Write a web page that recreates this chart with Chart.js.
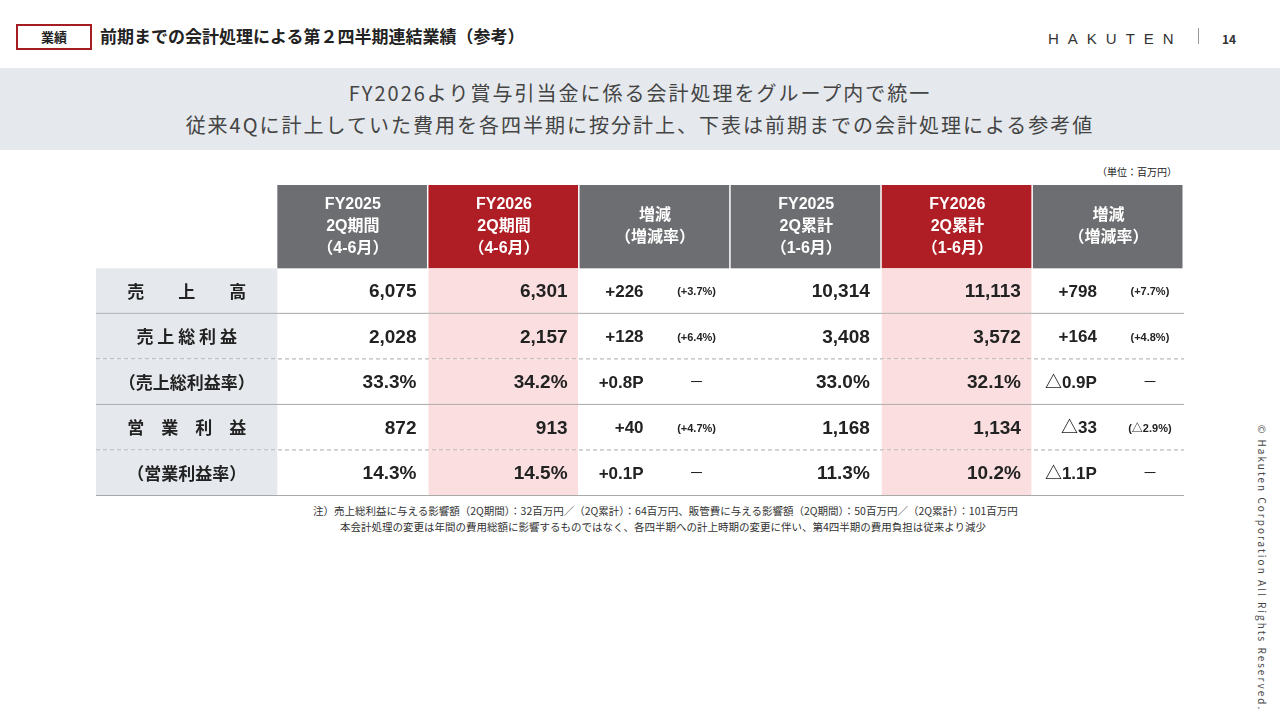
<!DOCTYPE html>
<html><head><meta charset="utf-8">
<script src="https://cdn.jsdelivr.net/npm/chart.js@4.4.0/dist/chart.umd.min.js"></script>
<style>
body{margin:0;width:1280px;height:720px;background:#fff;position:relative;overflow:hidden;font-family:"Noto Sans CJK JP","Noto Sans",sans-serif;color:#222}
.tag{position:absolute;left:16px;top:24px;width:72px;height:22px;border:2px solid #a31d22;font-size:13px;font-weight:bold;text-align:center;line-height:22px}
.title{position:absolute;left:100px;top:23px;font-size:17px;font-weight:bold}
.logo{position:absolute;left:1048px;top:30px;font-family:"Liberation Sans";font-size:15px;letter-spacing:9px;color:#333}
.sep{position:absolute;left:1198px;top:28px;width:1px;height:16px;background:#999}
.pg{position:absolute;left:1222px;top:30px;font-size:12px;font-weight:bold;color:#333}
.banner{position:absolute;left:0;top:68px;width:1280px;height:82px;background:#e5e9ed;text-align:center;font-size:20px;color:#444;letter-spacing:2px;line-height:32px;padding-top:9px;box-sizing:border-box}
.unit{position:absolute;right:103px;top:164px;font-size:10px}
.note{position:absolute;font-size:10.5px;color:#333}
.copy{position:absolute;left:1254px;top:425px;transform-origin:0 0;transform:translate(16px,0) rotate(90deg);font-size:10px;letter-spacing:2px;color:#444;white-space:nowrap}
canvas{position:absolute;left:96px;top:185px}
</style></head><body>
<div class="tag">業績</div>
<div class="title">前期までの会計処理による第２四半期連結業績（参考）</div>
<div class="logo">HAKUTEN</div><div class="sep"></div><div class="pg">14</div>
<div class="banner">FY2026より賞与引当金に係る会計処理をグループ内で統一<br>従来4Qに計上していた費用を各四半期に按分計上、下表は前期までの会計処理による参考値</div>
<div class="unit">（単位：百万円）</div>
<canvas id="tbl" width="1088" height="311"></canvas>
<div class="note" style="left:313px;top:503px">注）売上総利益に与える影響額（2Q期間）：32百万円／（2Q累計）：64百万円、販管費に与える影響額（2Q期間）：50百万円／（2Q累計）：101百万円</div>
<div class="note" style="left:340px;top:519px">本会計処理の変更は年間の費用総額に影響するものではなく、各四半期への計上時期の変更に伴い、第4四半期の費用負担は従来より減少</div>
<div class="copy">© Hakuten Corporation All Rights Reserved.</div>
<script>
const headers = ['FY2025\n2Q期間\n（4-6月）', 'FY2026\n2Q期間\n（4-6月）', '増減\n（増減率）', 'FY2025\n2Q累計\n（1-6月）', 'FY2026\n2Q累計\n（1-6月）', '増減\n（増減率）'];
const rowLabels = ['売　　上　　高', '売 上 総 利 益', '（売上総利益率）', '営　業　利　益', '（営業利益率）'];
const fy25q = ['6,075', '2,028', '33.3%', '872', '14.3%'];
const fy26q = ['6,301', '2,157', '34.2%', '913', '14.5%'];
const diffQ = ['+226', '+128', '+0.8P', '+40', '+0.1P'];
const rateQ = ['(+3.7%)', '(+6.4%)', '－', '(+4.7%)', '－'];
const fy25h = ['10,314', '3,408', '33.0%', '1,168', '11.3%'];
const fy26h = ['11,113', '3,572', '32.1%', '1,134', '10.2%'];
const diffH = ['+798', '+164', '△0.9P', '△33', '△1.1P'];
const rateH = ['(+7.7%)', '(+4.8%)', '－', '(△2.9%)', '－'];
const colEdges = [0, 1.2, 2.2, 3.2, 4.2, 5.2, 6.2, 7.2];
const rowEdges = [0, 1.83, 2.83, 3.83, 4.83, 5.83, 6.83];
const redCols = [1, 4];

const tablePlugin = {
  id: 'tablePlugin',
  afterDraw(chart) {
    const c = chart.ctx, x = chart.scales.x, y = chart.scales.y;
    const X = i => x.getPixelForValue(colEdges[i]);
    const Y = i => y.getPixelForValue(rowEdges[i]);
    const jp = '"Noto Sans CJK JP", sans-serif';
    c.save();
    c.textBaseline = 'middle';
    // header cells
    for (let j = 0; j < 6; j++) {
      const x0 = X(j + 1), x1 = X(j + 2);
      c.fillStyle = redCols.includes(j) ? '#ae1e24' : '#6d6e71';
      c.fillRect(x0, Y(0), x1 - x0 - 1.5, Y(1) - Y(0));
      c.fillStyle = '#fff';
      c.font = 'bold 16px "Liberation Sans", ' + jp;
      c.textAlign = 'center';
      const lines = headers[j].split('\n');
      const cy = (Y(0) + Y(1)) / 2, lh = 22;
      lines.forEach((l, k) => c.fillText(l, (x0 + x1) / 2, cy + (k - (lines.length - 1) / 2) * lh));
    }
    // body cells
    for (let r = 0; r < 5; r++) {
      const y0 = Y(r + 1), y1 = Y(r + 2), cy = (y0 + y1) / 2 + 1;
      c.fillStyle = '#e5e9ed';
      c.fillRect(X(0), y0, X(1) - X(0), y1 - y0);
      redCols.forEach(j => { c.fillStyle = '#fbdfe0'; c.fillRect(X(j + 1), y0, X(j + 2) - X(j + 1) - 1.5, y1 - y0); });
      c.fillStyle = '#222';
      c.textAlign = 'center';
      c.font = 'bold 17px ' + jp;
      c.fillText(rowLabels[r], (X(0) + X(1)) / 2, cy - 1);
      c.font = 'bold 19px "Liberation Sans"';
      c.textAlign = 'right';
      [fy25q, fy26q, null, fy25h, fy26h].forEach((arr, j) => {
        if (arr) c.fillText(arr[r], X(j + 2) - 12, cy);
      });
      [[diffQ, rateQ, 2], [diffH, rateH, 5]].forEach(([d, rt, j]) => {
        const x0 = X(j + 1);
        c.font = 'bold 17px "Liberation Sans", ' + jp;
        c.textAlign = 'right';
        c.fillText(d[r], x0 + 64, cy);
        c.font = (rt[r] === '－' ? '15px ' : 'bold 11px ') + '"Liberation Sans", ' + jp;
        c.textAlign = 'center';
        c.fillText(rt[r], x0 + 117, cy);
      });
      // bottom border
      c.strokeStyle = '#a9a9a9';
      c.lineWidth = 1;
      c.setLineDash(r === 1 || r === 3 ? [4, 3] : []);
      c.beginPath(); c.moveTo(X(0), y1 - 0.5); c.lineTo(X(7), y1 - 0.5); c.stroke();
    }
    c.restore();
  }
};

new Chart(document.getElementById('tbl'), {
  type: 'scatter',
  data: { datasets: [{ data: [] }] },
  options: {
    responsive: false, animation: false,
    layout: { padding: 0 },
    plugins: { legend: { display: false }, tooltip: { enabled: false } },
    scales: {
      x: { type: 'linear', min: 0, max: 7.2, display: false },
      y: { type: 'linear', min: 0, max: 6.83, reverse: true, display: false }
    }
  },
  plugins: [tablePlugin]
});
</script>
</body></html>
